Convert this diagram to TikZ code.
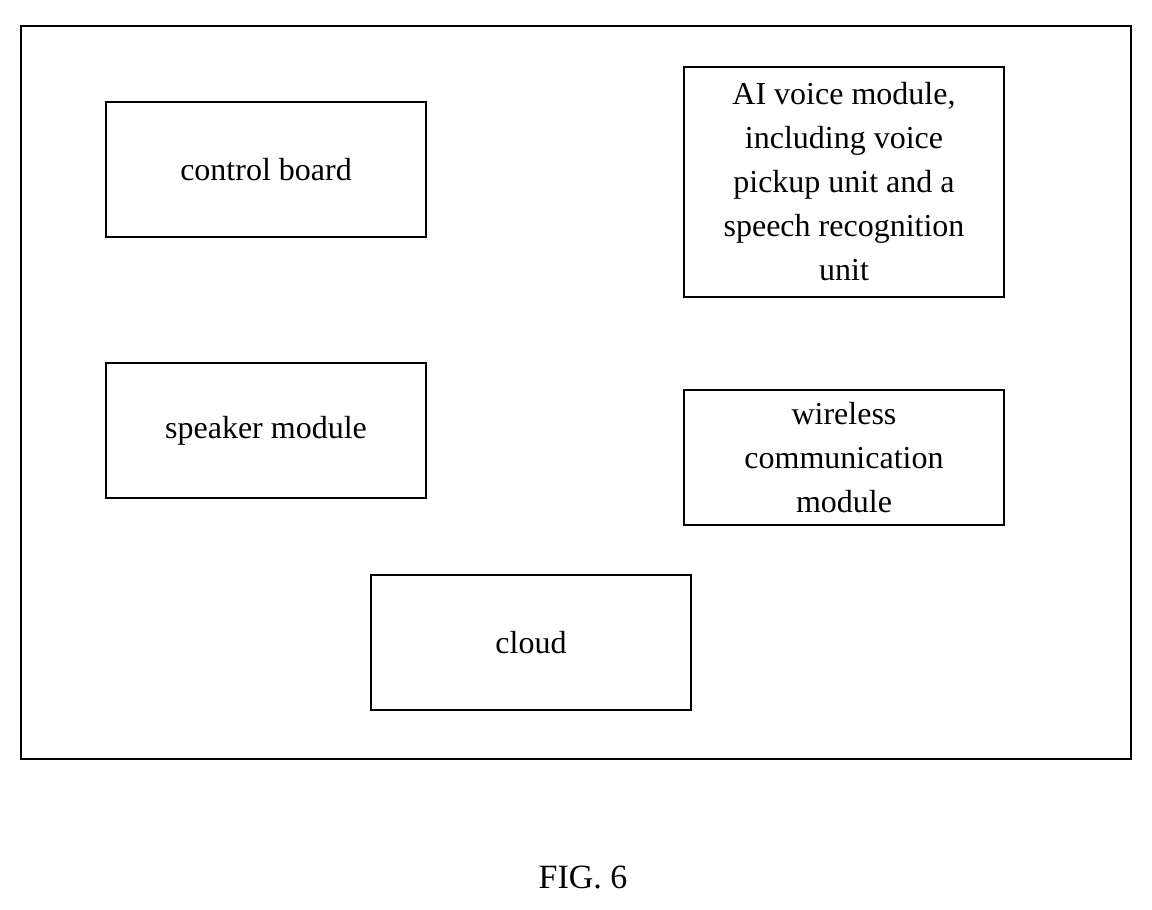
\documentclass[tikz,border=0pt]{standalone}
\usepackage{fontspec}
\setmainfont{Liberation Serif}
\begin{document}
\begin{tikzpicture}[x=0.5pt,y=-0.5pt,
  box/.style={draw, line width=0.6pt, inner sep=0pt, align=center, font=\fontsize{16}{22}\selectfont}]
\useasboundingbox (0,0) rectangle (1152,910);
\node[draw, line width=0.6pt, minimum width=555pt, minimum height=366.5pt, inner sep=0pt] (outer) at (576,392.5) {};
\node[box, minimum width=160pt, minimum height=67.5pt] (cb) at (266,169.5) {control board};
\node[box, minimum width=160pt, minimum height=115pt] (ai) at (844,182) {AI voice module,\\including voice\\pickup unit and a\\speech recognition\\unit};
\node[box, minimum width=160pt, minimum height=67.5pt] (sp) at (266,430.5) {speaker module};
\node[box, minimum width=160pt, minimum height=67.5pt] (wl) at (844,457.5) {wireless\\communication\\module};
\node[box, minimum width=160pt, minimum height=67.5pt] (cl) at (531,642.5) {cloud};
\node[font=\fontsize{17}{20}\selectfont] (fig) at (583,877) {FIG. 6};
\end{tikzpicture}
\end{document}
